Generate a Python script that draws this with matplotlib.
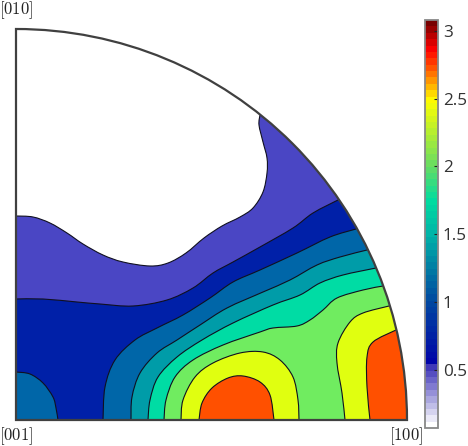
import numpy as np
import matplotlib
matplotlib.use("Agg")
import matplotlib.pyplot as plt
from matplotlib.cm import ScalarMappable
from matplotlib.colors import LinearSegmentedColormap, Normalize
from matplotlib.patches import PathPatch, Wedge
from matplotlib.path import Path

# isolines, sector radius = 391
RADIUS = 391
level_050 = [(0, 204), (17, 203), (34, 197), (51, 187), (67, 176), (87, 165), (107, 158), (134, 154), (152, 157),
             (170, 167), (188, 182), (206, 194), (224, 203), (237, 212), (247, 228), (251, 247), (251, 262),
             (247, 278), (243, 295), (244, 305)]
level_075 = [(0, 121), (27, 121), (61, 118), (84, 116), (117, 114), (151, 120), (177, 132), (197, 147), (217, 158),
             (244, 173), (277, 192), (297, 207), (322, 220)]
level_100 = [(87, 0), (89, 33), (99, 60), (119, 80), (141, 92), (167, 105), (194, 122), (217, 138), (244, 150),
             (281, 167), (314, 183), (340, 191)]
level_100_blob = [(0, 48), (14, 46), (27, 37), (37, 23), (40, 12), (42, 0)]
level_125 = [(115, 0), (116, 23), (124, 47), (141, 67), (161, 80), (184, 95), (211, 112), (247, 128), (274, 140),
             (301, 155), (324, 163), (351, 170)]
level_150 = [(132, 0), (134, 20), (142, 43), (161, 63), (186, 80), (217, 97), (257, 115), (284, 125), (304, 137),
             (327, 145), (360, 152)]
level_175 = [(148, 0), (150, 20), (159, 43), (177, 60), (207, 75), (244, 88), (257, 92), (281, 94), (294, 100),
             (307, 110), (321, 122), (347, 130), (367, 134)]
level_200_mid = [(165, 0), (167, 20), (179, 43), (197, 57), (224, 67), (247, 68), (264, 60), (277, 43), (282, 20),
                 (283, 0)]
level_200_right = [(329, 0), (326, 27), (321, 57), (322, 77), (334, 98), (347, 107), (373, 114)]
level_225_mid = [(183, 0), (186, 17), (196, 32), (212, 42), (227, 44), (244, 38), (254, 25), (258, 0)]
level_225_right = [(354, 0), (351, 33), (351, 63), (357, 78), (380, 90)]

band_colors = ["#4a46c4", "#0020a8", "#0066a8", "#009ca8", "#00dca4", "#70ec60", "#e0ff10", "#ff5000"]

# colorbar
cbar_min = 0.07
cbar_max = 3.08
cbar_ticks = [0.5, 1, 1.5, 2, 2.5, 3]
cbar_labels = ["0.5", "1", "1.5", "2", "2.5", "3"]
cmap_values = [0.07, 0.50, 0.52, 1.0, 1.5, 1.75, 2.0, 2.5, 2.72, 2.88, 3.08]
cmap_colors = ["#ffffff", "#4038b8", "#0000a8", "#0048a0", "#00b4a8", "#00dca0", "#64dc64", "#ffff00", "#ff6400",
               "#ff0000", "#780000"]


def smooth(points, closing):
    # Catmull-Rom through the read points, then straight lines outside the sector
    p = np.array(points, dtype=float)
    verts = [p[0]]
    codes = [Path.MOVETO]
    for i in range(len(p) - 1):
        before = p[max(i - 1, 0)]
        after = p[min(i + 2, len(p) - 1)]
        verts += [p[i] + (p[i + 1] - before) / 6, p[i + 1] - (after - p[i]) / 6, p[i + 1]]
        codes += [Path.CURVE4] * 3
    line = Path(verts, codes)
    for c in closing:
        verts.append(c)
        codes.append(Path.LINETO)
    verts.append(p[0])
    codes.append(Path.CLOSEPOLY)
    return line, Path(verts, codes)


def outwards(points):
    return np.array(points[-1], dtype=float) * 1.3


fig = plt.figure(figsize=(4.68, 4.46), dpi=100)
ax = fig.add_axes([0, 0, 1, 1])
ax.set_xlim(-16, 452)
ax.set_ylim(-26, 420)
ax.axis("off")

sector = Wedge((0, 0), RADIUS, 0, 90, transform=ax.transData)


def band(points, color, closing):
    line, area = smooth(points, closing)
    for patch in (PathPatch(area, fc=color, ec="none", zorder=1), PathPatch(line, fc="none", ec="#101020", lw=0.8, zorder=2)):
        ax.add_patch(patch)
        patch.set_clip_path(sector)


def to_left(points):
    return [outwards(points), (600, -50), (-50, -50), (-50, points[0][1])]


def to_bottom(points):
    return [outwards(points), (600, -50), (points[0][0], -50)]


band(level_050, band_colors[0], to_left(level_050))
band(level_075, band_colors[1], to_left(level_075))
band(level_100_blob, band_colors[2], [(42, -50), (-50, -50), (-50, 48)])
band(level_100, band_colors[2], to_bottom(level_100))
band(level_125, band_colors[3], to_bottom(level_125))
band(level_150, band_colors[4], to_bottom(level_150))
band(level_175, band_colors[5], to_bottom(level_175))
band(level_200_right, band_colors[6], to_bottom(level_200_right))
band(level_200_mid, band_colors[6], [(level_200_mid[-1][0], -50), (level_200_mid[0][0], -50)])
band(level_225_right, band_colors[7], to_bottom(level_225_right))
band(level_225_mid, band_colors[7], [(level_225_mid[-1][0], -50), (level_225_mid[0][0], -50)])

ax.add_patch(Wedge((0, 0), RADIUS, 0, 90, fc="none", ec="#404040", lw=1.6, zorder=3))

plt.rcParams["mathtext.fontset"] = "cm"
ax.text(0.5, 406, r"$[010]$", fontsize=12, ha="center", va="baseline", color="#222222")
ax.text(0.5, -20, r"$[001]$", fontsize=12, ha="center", va="baseline", color="#222222")
ax.text(390.5, -20, r"$[100]$", fontsize=12, ha="center", va="baseline", color="#222222")

stops = [(v - cbar_min) / (cbar_max - cbar_min) for v in cmap_values]
cmap = LinearSegmentedColormap.from_list("pf", list(zip(stops, cmap_colors)), N=64)
cax = fig.add_axes([425 / 468, 1 - 428 / 446, 13 / 468, 408 / 446])
cb = fig.colorbar(ScalarMappable(Normalize(cbar_min, cbar_max), cmap), cax=cax)
cb.set_ticks(cbar_ticks)
cb.set_ticklabels(cbar_labels)
cb.ax.tick_params(direction="in", length=3, width=0.8, pad=3.5, labelsize=12.3, color="#222222", labelcolor="#333333")
for label in cb.ax.get_yticklabels():
    label.set_family("Open Sans")
cb.outline.set_edgecolor("#888888")
cb.outline.set_linewidth(1.3)

fig.savefig("out.png", dpi=100)
